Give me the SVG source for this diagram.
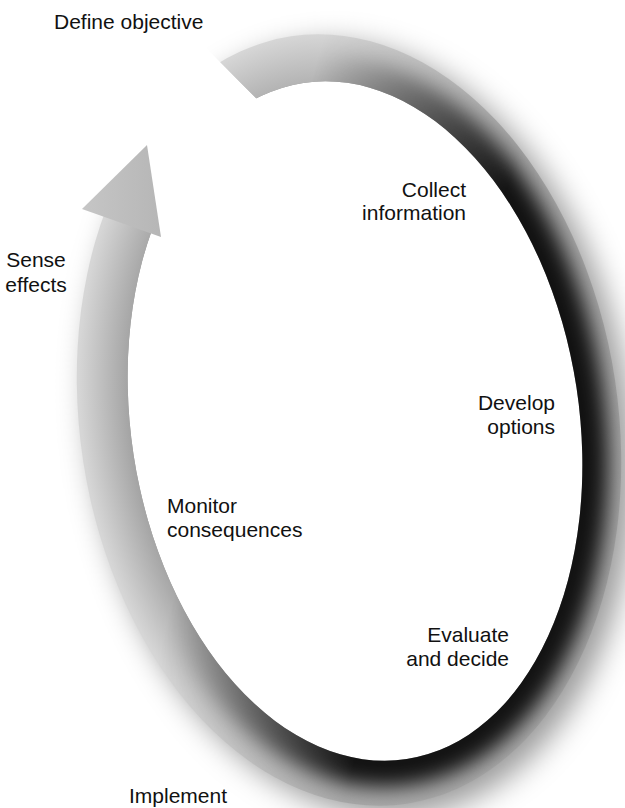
<svg xmlns="http://www.w3.org/2000/svg" width="625" height="808" viewBox="0 0 625 808">
<style>
.lbl{font-family:"Liberation Sans",Arial,Helvetica,sans-serif;font-size:21px;fill:#111}
.end{text-anchor:end}
.mid{text-anchor:middle}
</style>
<defs>
<filter id="blurS" filterUnits="userSpaceOnUse" x="-60" y="-60" width="745" height="928"><feGaussianBlur stdDeviation="15"/></filter>
<filter id="blurI" filterUnits="userSpaceOnUse" x="-60" y="-60" width="745" height="928"><feGaussianBlur stdDeviation="10"/></filter>
<radialGradient id="across" gradientUnits="userSpaceOnUse" cx="0" cy="0" r="1" gradientTransform="translate(352,420) rotate(-8.6) scale(270,388)">
<stop offset="0.82" stop-color="#a4a4a4"/>
<stop offset="1" stop-color="#d6d6d6"/>
</radialGradient>
<linearGradient id="dirG" gradientUnits="userSpaceOnUse" x1="230" y1="387.5" x2="439.5" y2="443.3">
<stop offset="0" stop-color="#000"/>
<stop offset="1" stop-color="#fff"/>
</linearGradient>
<linearGradient id="headG" x1="0" y1="0" x2="1" y2="0">
<stop offset="0" stop-color="#c6c6c6"/>
<stop offset="1" stop-color="#b6b6b6"/>
</linearGradient>
<mask id="gap" maskUnits="userSpaceOnUse" x="0" y="0" width="625" height="808">
<rect x="0" y="0" width="625" height="808" fill="#fff"/>
<polygon points="140,-18 275,117 200,249 30,189 30,-18" fill="#000"/>
</mask>
<mask id="band" maskUnits="userSpaceOnUse" x="0" y="0" width="625" height="808">
<ellipse cx="349" cy="420" rx="269" ry="388" transform="rotate(-8.6 349 420)" fill="#fff"/>
<ellipse cx="355" cy="421" rx="224" ry="342" transform="rotate(-8.7 355 421)" fill="#000"/>
<polygon points="140,-18 275,117 200,249 30,189 30,-18" fill="#000"/>
</mask>
<mask id="dir" maskUnits="userSpaceOnUse" x="0" y="0" width="625" height="808">
<rect x="0" y="0" width="625" height="808" fill="url(#dirG)"/>
</mask>
</defs>
<rect x="0" y="0" width="625" height="808" fill="#fff"/>
<g id="connectors">
<g id="cycle-shadow" mask="url(#gap)">
<ellipse cx="349" cy="420" rx="269" ry="388" transform="translate(12,10) rotate(-8.6 349 420)" fill="#000" fill-opacity="0.4" filter="url(#blurS)"/>
</g>
<ellipse cx="355" cy="421" rx="224" ry="342" transform="rotate(-8.7 355 421)" fill="#fff"/>
<g id="cycle-arrow" mask="url(#band)">
<rect x="0" y="0" width="625" height="808" fill="url(#across)"/>
<g mask="url(#dir)">
<rect x="0" y="0" width="625" height="808" fill="#000" fill-opacity="0.22"/>
<ellipse cx="355" cy="421" rx="224" ry="342" transform="rotate(-8.7 355 421)" fill="none" stroke="#000" stroke-width="50" stroke-opacity="0.87" filter="url(#blurI)"/>
</g>
</g>
<polygon id="arrowhead" points="147,145 82,209 161,237" fill="url(#headG)"/>
</g>
<g id="define-objective"><text class="lbl" x="54" y="29">Define objective</text></g>
<g id="collect-information"><text class="lbl end" x="466" y="197">Collect</text><text class="lbl end" x="466" y="220">information</text></g>
<g id="develop-options"><text class="lbl end" x="555" y="410">Develop</text><text class="lbl end" x="555" y="434">options</text></g>
<g id="evaluate-and-decide"><text class="lbl end" x="509" y="642">Evaluate</text><text class="lbl end" x="509" y="666">and decide</text></g>
<g id="implement"><text class="lbl" x="129" y="803">Implement</text></g>
<g id="monitor-consequences"><text class="lbl" x="167" y="513">Monitor</text><text class="lbl" x="167" y="537">consequences</text></g>
<g id="sense-effects"><text class="lbl mid" x="36" y="267">Sense</text><text class="lbl mid" x="36" y="292">effects</text></g>
</svg>
